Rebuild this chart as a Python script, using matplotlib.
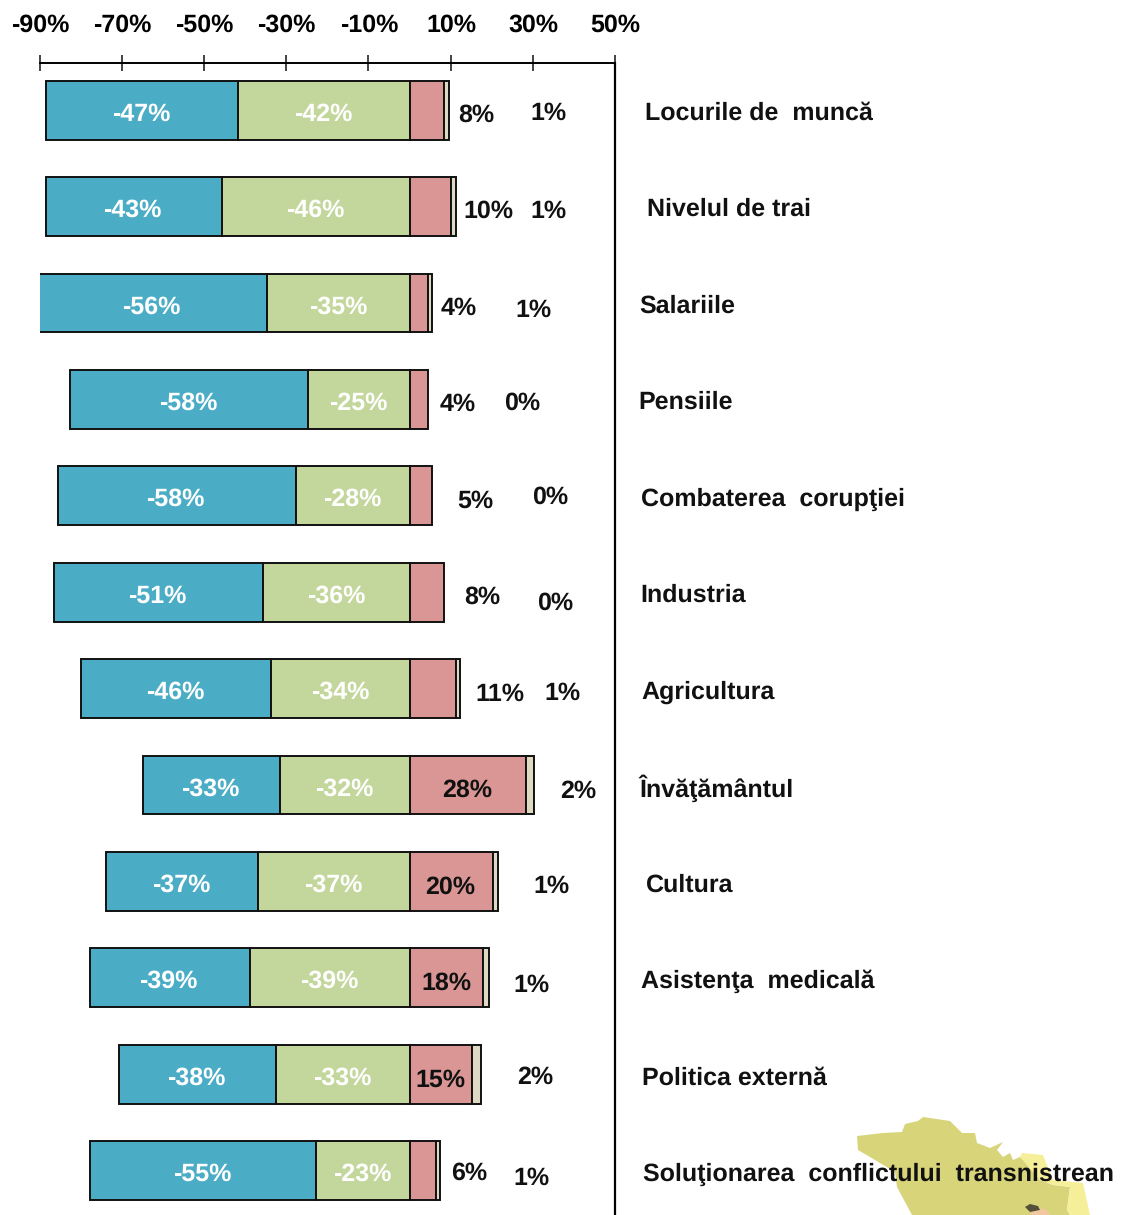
import matplotlib
matplotlib.use('Agg')
import matplotlib.pyplot as plt
from matplotlib.patches import Polygon
from matplotlib.transforms import ScaledTranslation

W, H = 1121, 1215

categories = ['Locurile de  muncă', 'Nivelul de trai', 'Salariile', 'Pensiile',
              'Combaterea  corupţiei', 'Industria', 'Agricultura', 'Învăţământul',
              'Cultura', 'Asistenţa  medicală', 'Politica externă',
              'Soluţionarea  conflictului  transnistrean']
blue = [46.8, 42.9, 56.0, 58.0, 58.0, 51.0, 46.3, 33.2, 37.0, 39.0, 38.0, 55.0]
green = [41.7, 45.6, 34.6, 24.6, 27.6, 35.6, 33.6, 31.6, 36.8, 38.8, 32.6, 22.7]
red = [8.3, 10.2, 4.4, 4.4, 5.4, 8.4, 11.2, 28.3, 20.4, 18.0, 15.1, 6.4]
cream = [1.2, 1.2, 1.0, 0.0, 0.0, 0.0, 1.2, 2.0, 1.2, 1.4, 2.2, 1.0]
xticks = list(range(-90, 51, 20))

# hand placed labels, pixels in the image (the original moves them around a lot)
red_label_x = [476, 488, 459, 458, 475, 482, 500, 467, 450, 446, 440, 469]
red_label_y = [113, 209, 306, 402, 499, 595, 692, 788, 885, 981, 1078, 1171]
cream_label_x = [548, 548, 533, 522, 550, 555, 562, 578, 551, 531, 535, 531]
cream_label_y = [111, 209, 308, 401, 495, 601, 691, 789, 884, 983, 1075, 1176]
cat_label_x = [645, 647, 639, 638, 641, 640, 641, 639, 646, 641, 642, 643]
cat_label_y = [112, 208, 305, 401, 498, 594, 691, 787, 884, 980, 1077, 1173]

# map in the corner behind the last label, pixels
map_main = [(857, 1136), (883, 1133), (902, 1132), (905, 1124), (918, 1121), (923, 1117),
            (950, 1121), (962, 1133), (975, 1133), (977, 1143), (990, 1148), (1003, 1142),
            (997, 1150), (1003, 1157), (1010, 1153), (1013, 1160), (1020, 1157), (1027, 1160),
            (1040, 1180), (1053, 1185), (1070, 1187), (1067, 1210), (1070, 1215), (912, 1215),
            (897, 1187), (895, 1172), (870, 1157), (858, 1150)]
map_east = [(1020, 1157), (1022, 1153), (1043, 1155), (1053, 1180), (1083, 1183), (1090, 1215),
            (1070, 1215), (1067, 1210), (1070, 1187), (1053, 1185), (1040, 1180)]
map_spot = [(1030, 1215), (1034, 1209), (1046, 1209), (1050, 1215)]
map_town = [(1025, 1207), (1030, 1204), (1038, 1206), (1040, 1210), (1030, 1212)]

plt.rcParams['font.family'] = ['Liberation Sans', 'DejaVu Sans']
plt.rcParams['font.weight'] = 'bold'
plt.rcParams['text.hinting'] = 'none'
plt.rcParams['text.hinting_factor'] = 1


def px(x, y):
    return x / W, 1 - y / H


fig = plt.figure(figsize=(W / 100, H / 100), dpi=100)
ax = fig.add_axes([39.6 / W, 0, 575.4 / W, 1 - 63 / H])
ax.patch.set_visible(False)

for pts, col in [(map_main, '#D8D47A'), (map_east, '#F5EF9A'), (map_spot, '#F2C8A0'), (map_town, '#55503A')]:
    fig.add_artist(Polygon([px(*p) for p in pts], closed=True, facecolor=col,
                           edgecolor='none', transform=fig.transFigure, zorder=-1))

rows = list(range(len(categories)))
lefts_green = [-g for g in green]
lefts_blue = [-g - b for g, b in zip(green, blue)]
edge = dict(edgecolor='#111111', linewidth=1.4, height=0.61)
ax.barh(rows, blue, left=lefts_blue, color='#4BACC6', **edge)
ax.barh(rows, green, left=lefts_green, color='#C3D69B', **edge)
ax.barh(rows, red, left=0, color='#D99694', **edge)
for i in rows:
    if cream[i] > 0:
        ax.barh(i, cream[i], left=red[i], color='#DDD9C3', **edge)

ax.set_xlim(-90, 50)
ax.set_ylim(11.46, -0.49)
ax.set_yticks([])
ax.set_xticks(xticks)
ax.set_xticklabels(['%d%%' % t for t in xticks], fontsize=18, fontweight='bold')
ax.xaxis.tick_top()
ax.tick_params(axis='x', direction='inout', length=11.5, width=1.1, pad=13, color='#111111')
shift = ScaledTranslation(0.5 / 100, 0, fig.dpi_scale_trans)
for lab in ax.get_xticklabels():
    lab.set_transform(lab.get_transform() + shift)
ax.spines['left'].set_visible(False)
ax.spines['bottom'].set_visible(False)
ax.spines['top'].set_linewidth(1.4)
ax.spines['right'].set_linewidth(1.6)

for i in rows:
    ax.text(lefts_blue[i] + blue[i] / 2 - 0.3, i + 0.04, '-%d%%' % round(blue[i]), color='white',
            fontsize=18, ha='center', va='center', clip_on=False)
    ax.text(lefts_green[i] + green[i] / 2 - 0.1, i + 0.04, '-%d%%' % round(green[i]), color='white',
            fontsize=18, ha='center', va='center')
    x, y = px(red_label_x[i], red_label_y[i] + 2)
    fig.text(x, y, '%d%%' % round(red[i]), fontsize=18, ha='center', va='center', color='#111111')
    x, y = px(cream_label_x[i], cream_label_y[i] + 2)
    fig.text(x, y, '%d%%' % round(cream[i]), fontsize=18, ha='center', va='center', color='#111111')
    x, y = px(cat_label_x[i], cat_label_y[i] + 1)
    fig.text(x, y, categories[i], fontsize=18.3, ha='left', va='center', color='#111111')

fig.savefig('out.png', dpi=100)
